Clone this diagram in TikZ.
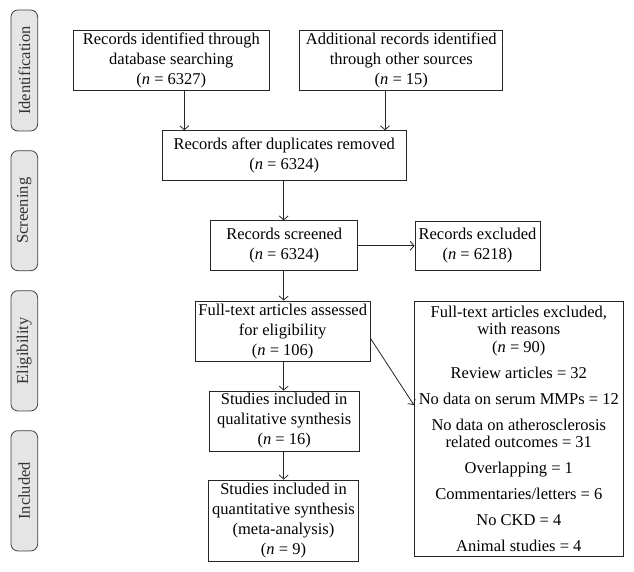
\documentclass[tikz,border=0pt]{standalone}
\usepackage{fontspec}
\setmainfont{Liberation Serif}
\usetikzlibrary{arrows.meta}
\begin{document}
\begin{tikzpicture}[x=1pt,y=-1pt,
  box/.style={draw=black!85,line width=0.8pt,align=center,inner sep=0pt,font=\fontsize{16.5}{20}\selectfont},
  phase/.style={draw=black!75,fill=black!10,rounded corners=7pt,line width=0.8pt,rotate=90,minimum height=26.7pt,inner sep=0pt,font=\fontsize{16.5}{20}\selectfont,text=black!80},
  arr/.style={draw=black!85,line width=0.8pt,-{Straight Barb[length=4pt,width=9pt]}}]
\useasboundingbox[fill=white] (0,0) rectangle (634,572);

% phase labels
\node[phase,minimum width=121pt] (pid) at (24.3,70.5) {Identification};
\node[phase,minimum width=120pt] (psc) at (24.3,210.7) {Screening};
\node[phase,minimum width=120.3pt] (pel) at (24.3,350.8) {Eligibility};
\node[phase,minimum width=120.3pt] (pin) at (24.3,490.8) {Included};

% boxes
\node[box,minimum width=196pt,minimum height=60pt] (b1) at (171.3,60.7)
  {Records identified through\\database searching\\(\textit{n} = 6327)};
\node[box,minimum width=203pt,minimum height=60pt] (b2) at (401.3,60.8)
  {Additional records identified\\through other sources\\(\textit{n} = 15)};
\node[box,minimum width=243.7pt,minimum height=49.6pt] (b3) at (284.2,155.5)
  {Records after duplicates removed\\(\textit{n} = 6324)};
\node[box,minimum width=147pt,minimum height=50pt] (b4) at (284.2,245.8)
  {Records screened\\(\textit{n} = 6324)};
\node[box,minimum width=125pt,minimum height=49.7pt] (ex) at (477.5,245.8)
  {Records excluded\\(\textit{n} = 6218)};
\node[box,minimum width=174.7pt,minimum height=60.7pt] (b5) at (282.7,331.3)
  {Full-text articles assessed\\for eligibility\\(\textit{n} = 106)};
\node[box,minimum width=150.3pt,minimum height=60pt] (b6) at (284.2,421)
  {Studies included in\\qualitative synthesis\\(\textit{n} = 16)};
\node[box,minimum width=150.4pt,minimum height=81.7pt] (b7) at (283.5,520.8)
  {Studies included in\\quantitative synthesis\\(meta-analysis)\\(\textit{n} = 9)};
\node[box,minimum width=209pt,minimum height=255.7pt,font=\fontsize{16.5}{17.5}\selectfont] (rs) at (518.8,428.8)
  {Full-text articles excluded,\\with reasons\\(\textit{n} = 90)\\[8.5pt]
   Review articles = 32\\[8.5pt]
   No data on serum MMPs = 12\\[8.5pt]
   No data on atherosclerosis\\related outcomes = 31\\[8.5pt]
   Overlapping = 1\\[8.5pt]
   Commentaries/letters = 6\\[8.5pt]
   No CKD = 4\\[8.5pt]
   Animal studies = 4};

% helper coordinates
\coordinate (xa) at (184.3,0);
\coordinate (xb) at (385,0);
\coordinate (xc) at (283.7,0);
\coordinate (ya) at (0,338.3);
\coordinate (yb) at (0,405);

% connectors
\draw[arr] (b1.south -| xa) -- (b3.north -| xa);
\draw[arr] (b2.south -| xb) -- (b3.north -| xb);
\draw[arr] (b3.south -| xc) -- (b4.north -| xc);
\draw[arr] (b4.east) -- (ex.west |- b4.east);
\draw[arr] (b4.south -| xc) -- (b5.north -| xc);
\draw[arr] (b5.south -| xc) -- (b6.north -| xc);
\draw[arr] (b6.south -| xc) -- (b7.north -| xc);
\draw[arr] (b5.east |- ya) -- (rs.west |- yb);
\end{tikzpicture}
\end{document}
